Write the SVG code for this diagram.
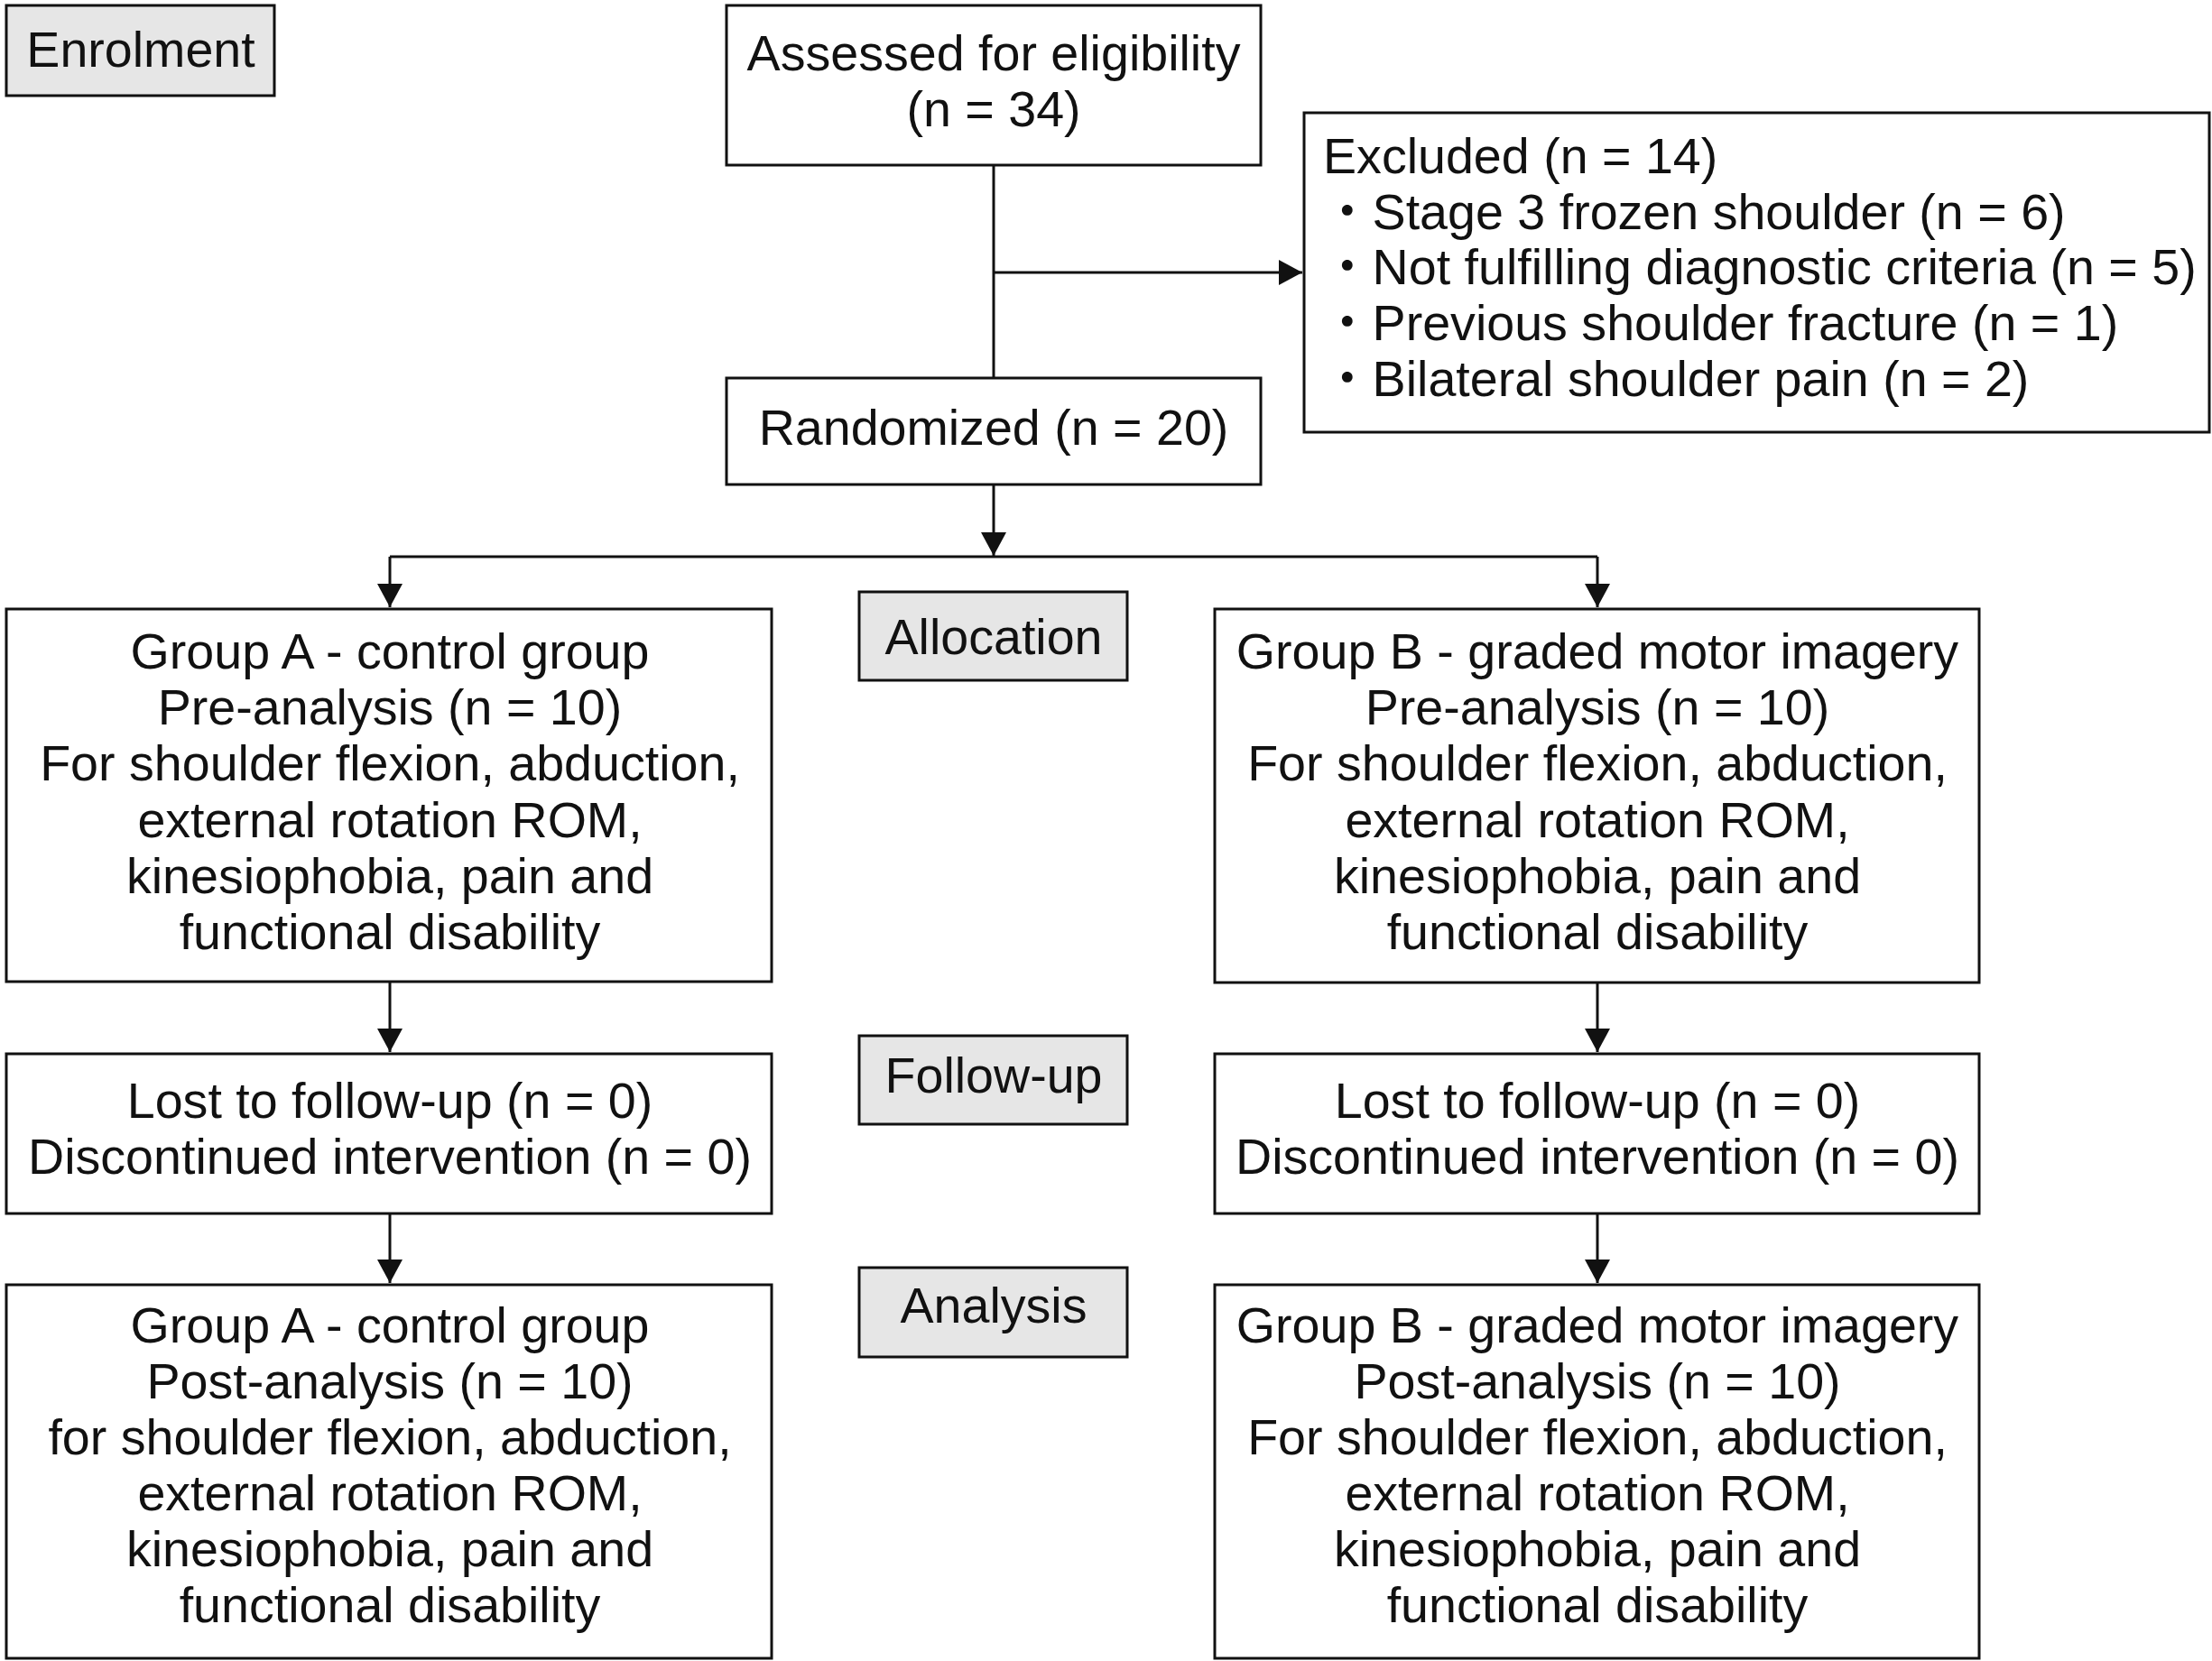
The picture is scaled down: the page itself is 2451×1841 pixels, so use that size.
<svg xmlns="http://www.w3.org/2000/svg" width="2451" height="1841" viewBox="0 0 2451 1841">
<style>
.box{fill:#fff;stroke:#111;stroke-width:3}
.lbl{fill:#e6e6e6;stroke:#111;stroke-width:3}
text{font-family:"Liberation Sans",Arial,"Noto Sans CJK JP",sans-serif;font-size:55.6px;fill:#111}
.c{text-anchor:middle}
.con{fill:none;stroke:#111;stroke-width:3}
</style>
<defs>
<marker id="ah" markerUnits="userSpaceOnUse" markerWidth="26" markerHeight="28" refX="26" refY="14" orient="auto">
<path d="M0,0 L26,14 L0,28 z" fill="#111"/>
</marker>
</defs>
<rect width="2451" height="1841" fill="#fff"/>
<g id="connectors">
<path class="con" d="M1101 183 V419"/>
<path class="con" d="M1101 302 H1443" marker-end="url(#ah)"/>
<path class="con" d="M1101 537 V616" marker-end="url(#ah)"/>
<path class="con" d="M432 617 H1770"/>
<path class="con" d="M432 617 V673" marker-end="url(#ah)"/>
<path class="con" d="M1770 617 V673" marker-end="url(#ah)"/>
<path class="con" d="M432 1088 V1166" marker-end="url(#ah)"/>
<path class="con" d="M1770 1089 V1166" marker-end="url(#ah)"/>
<path class="con" d="M432 1345 V1422" marker-end="url(#ah)"/>
<path class="con" d="M1770 1345 V1422" marker-end="url(#ah)"/>
</g>
<g id="enrolment">
<rect class="lbl" x="7" y="6" width="297" height="100"/>
<text class="c" x="156" y="74">Enrolment</text>
</g>
<g id="assessed">
<rect class="box" x="805" y="6" width="592" height="177"/>
<text class="c" x="1101" y="78">Assessed for eligibility</text>
<text class="c" x="1101" y="140">(n = 34)</text>
</g>
<g id="excluded">
<rect class="box" x="1445" y="125" width="1003" height="354"/>
<text x="1466" y="192">Excluded (n = 14)</text>
<text x="1465" y="254">・Stage 3 frozen shoulder (n = 6)</text>
<text x="1465" y="315">・Not fulfilling diagnostic criteria (n = 5)</text>
<text x="1465" y="377">・Previous shoulder fracture (n = 1)</text>
<text x="1465" y="439">・Bilateral shoulder pain (n = 2)</text>
</g>
<g id="randomized">
<rect class="box" x="805" y="419" width="592" height="118"/>
<text class="c" x="1101" y="493">Randomized (n = 20)</text>
</g>
<g id="allocation">
<rect class="lbl" x="952" y="656" width="297" height="98"/>
<text class="c" x="1101" y="725">Allocation</text>
</g>
<g id="groupA-pre">
<rect class="box" x="7" y="675" width="848" height="413"/>
<text class="c" x="432" y="741">Group A - control group</text>
<text class="c" x="432" y="803">Pre-analysis (n = 10)</text>
<text class="c" x="432" y="865">For shoulder flexion, abduction,</text>
<text class="c" x="432" y="928">external rotation ROM,</text>
<text class="c" x="432" y="990">kinesiophobia, pain and</text>
<text class="c" x="432" y="1052">functional disability</text>
</g>
<g id="groupB-pre">
<rect class="box" x="1346" y="675" width="847" height="414"/>
<text class="c" x="1770" y="741">Group B - graded motor imagery</text>
<text class="c" x="1770" y="803">Pre-analysis (n = 10)</text>
<text class="c" x="1770" y="865">For shoulder flexion, abduction,</text>
<text class="c" x="1770" y="928">external rotation ROM,</text>
<text class="c" x="1770" y="990">kinesiophobia, pain and</text>
<text class="c" x="1770" y="1052">functional disability</text>
</g>
<g id="followup">
<rect class="lbl" x="952" y="1148" width="297" height="98"/>
<text class="c" x="1101" y="1211">Follow-up</text>
</g>
<g id="groupA-followup">
<rect class="box" x="7" y="1168" width="848" height="177"/>
<text class="c" x="432" y="1239">Lost to follow-up (n = 0)</text>
<text class="c" x="432" y="1301">Discontinued intervention (n = 0)</text>
</g>
<g id="groupB-followup">
<rect class="box" x="1346" y="1168" width="847" height="177"/>
<text class="c" x="1770" y="1239">Lost to follow-up (n = 0)</text>
<text class="c" x="1770" y="1301">Discontinued intervention (n = 0)</text>
</g>
<g id="analysis">
<rect class="lbl" x="952" y="1405" width="297" height="99"/>
<text class="c" x="1101" y="1466">Analysis</text>
</g>
<g id="groupA-post">
<rect class="box" x="7" y="1424" width="848" height="414"/>
<text class="c" x="432" y="1488">Group A - control group</text>
<text class="c" x="432" y="1550">Post-analysis (n = 10)</text>
<text class="c" x="432" y="1612">for shoulder flexion, abduction,</text>
<text class="c" x="432" y="1674">external rotation ROM,</text>
<text class="c" x="432" y="1736">kinesiophobia, pain and</text>
<text class="c" x="432" y="1798">functional disability</text>
</g>
<g id="groupB-post">
<rect class="box" x="1346" y="1424" width="847" height="414"/>
<text class="c" x="1770" y="1488">Group B - graded motor imagery</text>
<text class="c" x="1770" y="1550">Post-analysis (n = 10)</text>
<text class="c" x="1770" y="1612">For shoulder flexion, abduction,</text>
<text class="c" x="1770" y="1674">external rotation ROM,</text>
<text class="c" x="1770" y="1736">kinesiophobia, pain and</text>
<text class="c" x="1770" y="1798">functional disability</text>
</g>
</svg>
